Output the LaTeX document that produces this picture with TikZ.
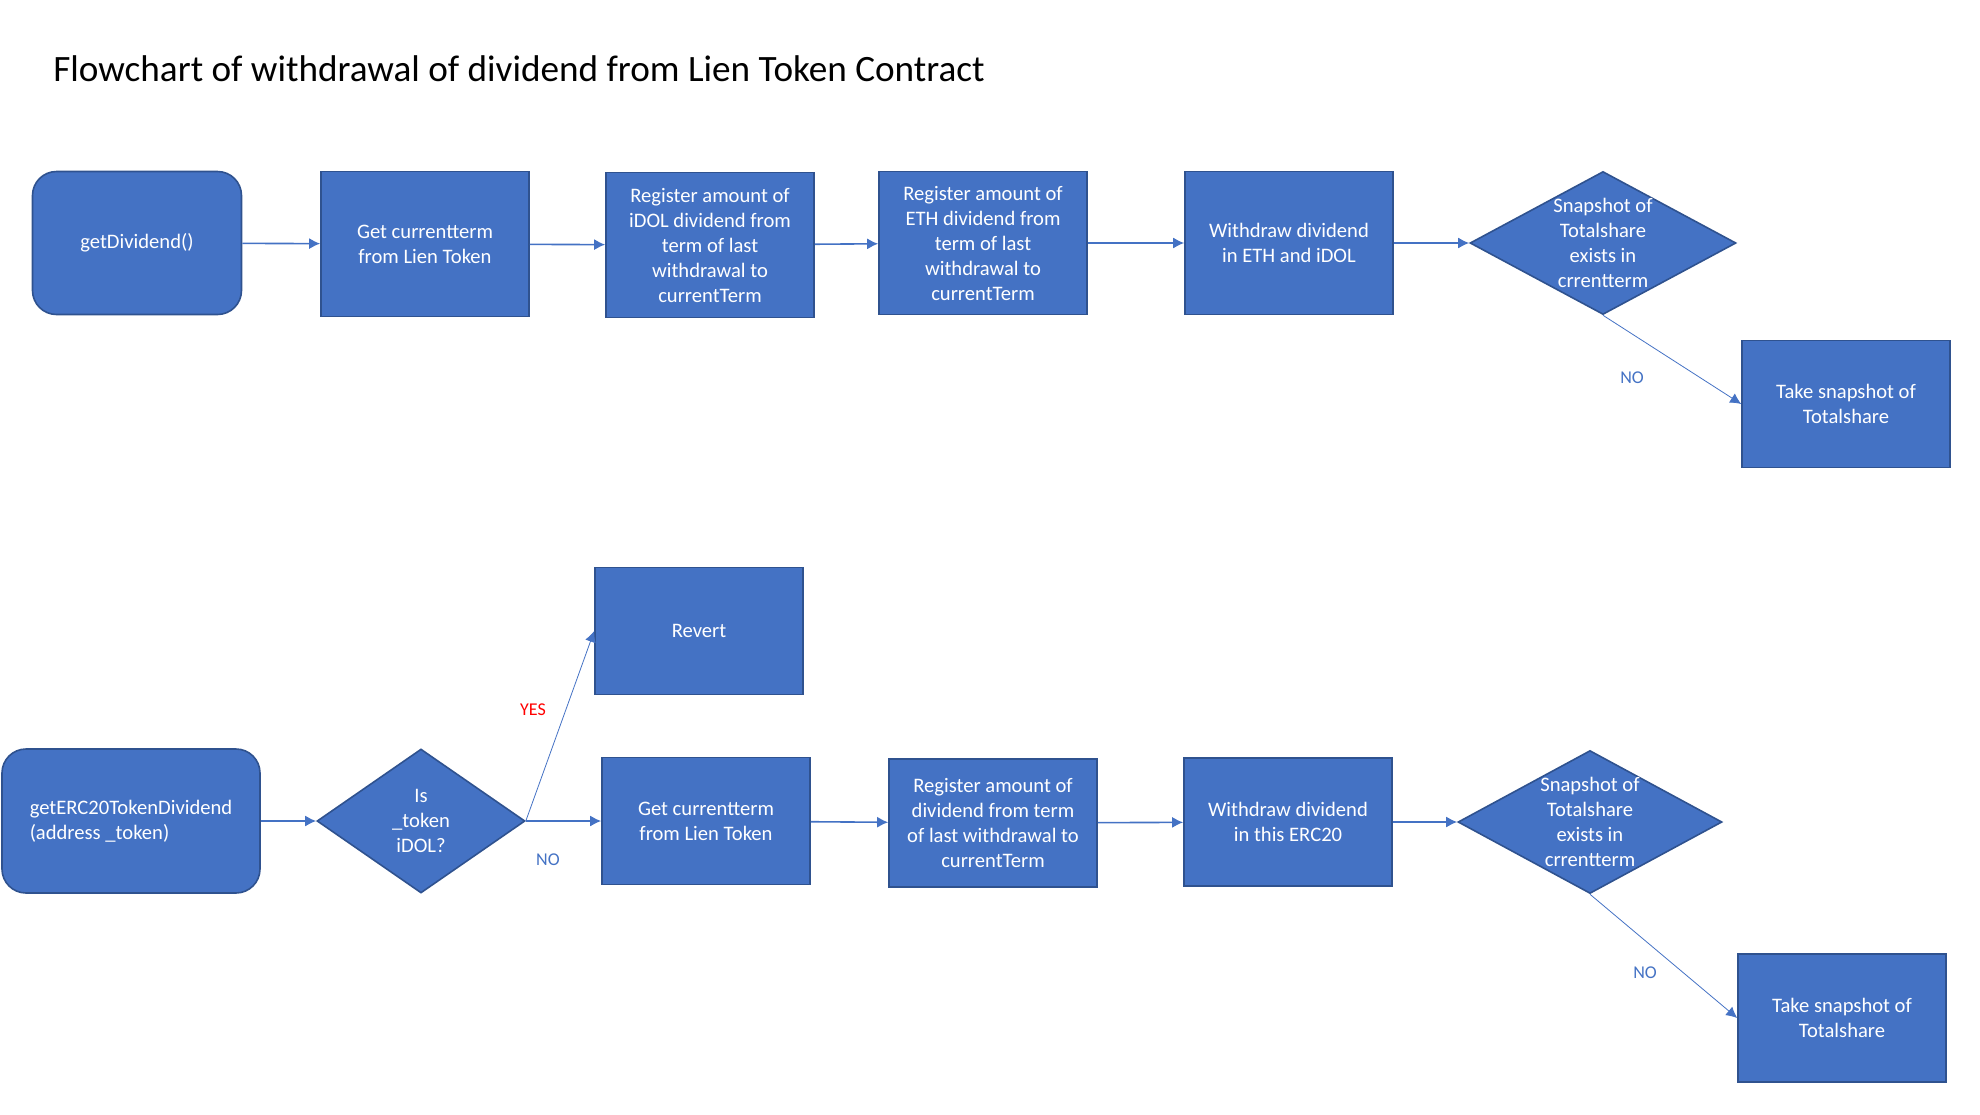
\documentclass[tikz,border=0pt]{standalone}
\usepackage{fontspec}
\setmainfont{Carlito}
\usepackage{tikz}
\usetikzlibrary{shapes.geometric,arrows.meta}
\tikzset{>={Latex[length=5.5pt,width=5.5pt]}}
\definecolor{boxblue}{HTML}{4472C4}
\definecolor{edgeblue}{HTML}{2F528F}
\definecolor{yesred}{HTML}{FF0000}
\tikzset{
  proc/.style={rectangle, draw=edgeblue, line width=0.8pt, fill=boxblue, text=white,
    align=center, minimum width=104pt, minimum height=72.5pt, inner sep=2pt,
    font=\fontsize{10.3}{12.5}\selectfont},
  startbox/.style={proc, rounded corners=12pt},
  decision/.style={diamond, draw=edgeblue, line width=0.8pt, fill=boxblue,
    inner sep=0pt, minimum width=133pt, minimum height=71.5pt},
  dtext/.style={text=white, align=center, inner sep=0pt,
    font=\fontsize{10.3}{12.5}\selectfont},
  flow/.style={->, draw=boxblue, line width=0.8pt},
  answer/.style={text=boxblue, inner sep=0pt, font=\fontsize{9}{11}\selectfont},
}

\begin{document}
\begin{tikzpicture}[x=0.5pt, y=-0.5pt]
            \useasboundingbox (0,0) rectangle (1980,1114);
            \node[anchor=base west, inner sep=0pt, font=\fontsize{18.6}{22}\selectfont] (title) at (53,81)
              {Flowchart of withdrawal of dividend from Lien Token Contract};

            % getDividend()
            \node[startbox, minimum width=104.5pt, minimum height=71.5pt] (getdiv) at (137,243) {getDividend()};
            \node[proc] (term1) at (425,244) {Get currentterm\\from Lien Token};
            \node[proc] (regidol) at (710,245) {Register amount of\\iDOL dividend from\\term of last\\withdrawal to\\currentTerm};
            \node[proc, minimum height=71.5pt] (regeth) at (983,243) {Register amount of\\ETH dividend from\\term of last\\withdrawal to\\currentTerm};
            \node[proc, minimum height=71.5pt] (wdeth) at (1289,243) {Withdraw dividend\\in ETH and iDOL};
            \node[decision, label={[dtext]center:{Snapshot of\\Totalshare\\exists in\\crrentterm}}] (snap1) at (1603,243) {};
            \node[proc, minimum height=63.5pt] (take1) at (1846,404) {Take snapshot of\\Totalshare};

            \draw[flow] (getdiv) -- (term1);
            \draw[flow] (term1) -- (regidol);
            \draw[flow] (regidol) -- (regeth);
            \draw[flow] (regeth) -- (wdeth);
            \draw[flow] (wdeth) -- (snap1);
            \draw[flow, thin] (snap1.south) -- (take1.west);
            \node[answer] (no1) at (1632,378) {NO};

            % getERC20TokenDividend
            \node[startbox, minimum width=129pt, minimum height=72pt, align=left] (geterc) at (131,821) {getERC20TokenDividend\\(address \_token)};
            \node[decision, minimum width=104pt, minimum height=72pt, label={[dtext]center:{Is\\\_token\\iDOL?}}] (isidol) at (421,821) {};
            \node[proc, minimum height=63.5pt] (revert) at (699,631) {Revert};
            \node[proc, minimum height=63.5pt] (term2) at (706,821) {Get currentterm\\from Lien Token};
            \node[proc, minimum height=64pt] (regerc) at (993,823) {Register amount of\\dividend from term\\of last withdrawal to\\currentTerm};
            \node[proc, minimum height=64pt] (wderc) at (1288,822) {Withdraw dividend\\in this ERC20};
            \node[decision, minimum width=132pt, label={[dtext]center:{Snapshot of\\Totalshare\\exists in\\crrentterm}}] (snap2) at (1590,822) {};
            \node[proc, minimum height=64pt] (take2) at (1842,1018) {Take snapshot of\\Totalshare};

            \draw[flow] (geterc) -- (isidol);
            \draw[flow, thin] (isidol.east) -- (revert.west);
            \draw[flow] (isidol.east) -- (term2.west);
            \draw[flow] (term2) -- (regerc);
            \draw[flow] (regerc) -- (wderc);
            \draw[flow] (wderc) -- (snap2);
            \draw[flow, thin] (snap2.south) -- (take2.west);
            \node[answer, text=yesred] (yes) at (533,710) {YES};
            \node[answer] (no2) at (548,860) {NO};
            \node[answer] (no3) at (1645,973) {NO};

\end{tikzpicture}
\end{document}
